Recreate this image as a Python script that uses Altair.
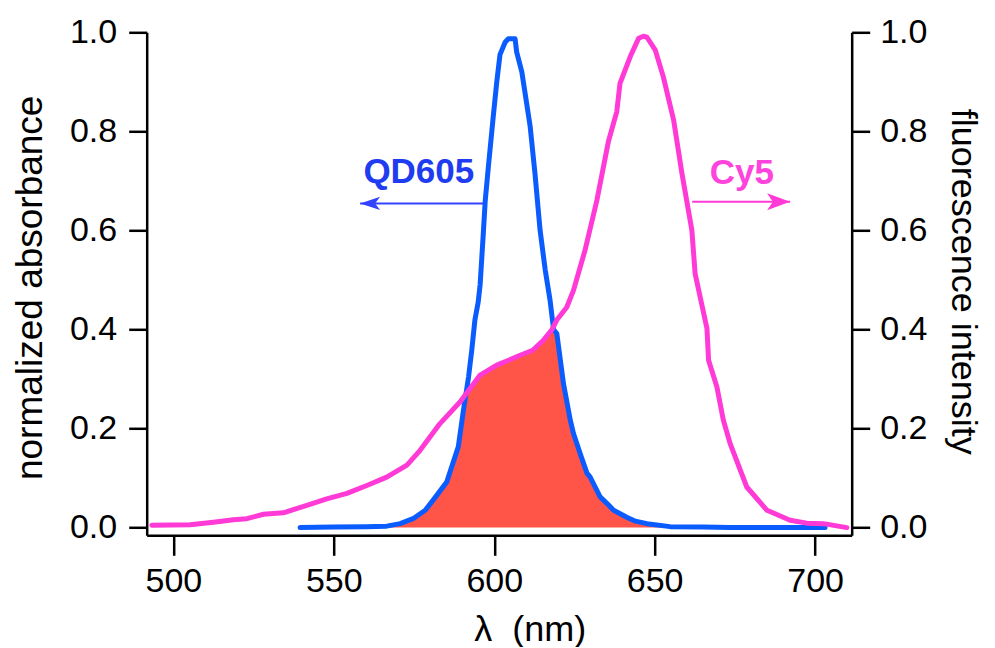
import altair as alt
import pandas as pd

# ---------------- data ----------------
qd_nm = [539.5, 550, 560, 566.5, 570.7, 574.7, 578.5, 581.5, 585.2, 588.8, 590.4, 592.0,
         593.0, 594.0, 595.0, 595.6, 596.6, 597.2, 598.2, 599.7, 600.8, 601.8, 603.4,
         604.4, 606.5, 607.0, 608.6, 611.2, 612.7, 614.3, 615.9, 617.4, 618.5, 619.5,
         621.6, 623.7, 624.7, 626.8, 628.9, 629.9, 633.0, 635.1, 637.2, 641.3, 644.0,
         647.6, 654.8, 665.0, 673.5, 690.0, 703.1]
qd_val = [0.000, 0.001, 0.002, 0.003, 0.008, 0.018, 0.035, 0.060, 0.092, 0.163, 0.237, 0.304,
          0.358, 0.420, 0.455, 0.490, 0.594, 0.660, 0.730, 0.830, 0.900, 0.955, 0.980,
          0.987, 0.987, 0.960, 0.920, 0.810, 0.715, 0.600, 0.520, 0.459, 0.400, 0.392,
          0.290, 0.217, 0.190, 0.149, 0.110, 0.102, 0.062, 0.049, 0.035, 0.021, 0.013,
          0.008, 0.002, 0.001, 0.000, 0.000, 0.000]

cy_nm = [493.3, 505.2, 512.5, 518.7, 522.9, 528.1, 534.3, 541.6, 547.8, 554.1, 560.3,
         566.5, 572.8, 576.9, 583.1, 589.4, 595.6, 600.8, 604.5, 608.1, 612.0, 615.3,
         618.0, 619.5, 622.6, 624.7, 628.3, 632.0, 635.6, 638.2, 639.2, 642.4, 645.0,
         646.5, 647.6, 650.2, 652.7, 655.9, 658.5, 661.6, 662.6, 666.3, 666.8, 669.4,
         671.4, 673.5, 678.7, 685.0, 692.2, 697.4, 702.6, 709.9]
cy_val = [0.005, 0.006, 0.011, 0.016, 0.018, 0.027, 0.030, 0.045, 0.058, 0.069, 0.085,
          0.102, 0.126, 0.156, 0.210, 0.254, 0.308, 0.328, 0.338, 0.348, 0.358, 0.378,
          0.400, 0.419, 0.445, 0.479, 0.560, 0.661, 0.780, 0.840, 0.897, 0.951, 0.988,
          0.992, 0.990, 0.964, 0.910, 0.823, 0.715, 0.600, 0.513, 0.402, 0.338, 0.284,
          0.217, 0.170, 0.082, 0.035, 0.015, 0.009, 0.008, 0.000]

# spectral overlap (red filled region)
ov_nm = [566.0, 570.7, 574.7, 578.5, 581.5, 585.2, 588.8, 590.4, 591.3, 595.6, 600.8,
         604.5, 608.1, 612.0, 615.3, 618.0, 618.6, 619.8, 621.8, 623.9, 625.0, 627.0,
         629.1, 630.2, 633.2, 635.3, 637.4, 641.5, 644.2, 647.8, 652.0]
ov_val = [0.000, 0.008, 0.018, 0.035, 0.060, 0.092, 0.163, 0.237, 0.270, 0.308, 0.328,
          0.338, 0.348, 0.358, 0.378, 0.400, 0.400, 0.392, 0.294, 0.220, 0.192, 0.152,
          0.112, 0.104, 0.064, 0.050, 0.036, 0.022, 0.014, 0.008, 0.000]

x_ticks = [500, 550, 600, 650, 700]
y_ticks = [0.0, 0.2, 0.4, 0.6, 0.8, 1.0]
x_domain = [491.7, 711.4]
y_domain = [-0.0155, 1.0]

labels = ["QD605", "Cy5"]
label_nm = [576.5, 677.2]
label_v = [0.696, 0.693]
arrow_from = [596.9, 661.7]
arrow_to = [558.2, 692.2]
arrow_v = [0.6545, 0.658]

# ---------------- styling ----------------
BLUE = "#0a5cff"
MAGENTA = "#ff3ad6"
RED = "#ff5448"
QD_TEXT = "#1f3cf0"
QD_ARROW = "#3344ff"
CY_TEXT = "#ff44dd"
FONT = "Liberation Sans"

qd_df = pd.DataFrame({"nm": qd_nm, "v": qd_val})
cy_df = pd.DataFrame({"nm": cy_nm, "v": cy_val})
ov_df = pd.DataFrame({"nm": ov_nm, "v": ov_val})

x_scale = alt.Scale(domain=x_domain, nice=False, zero=False)
y_scale = alt.Scale(domain=y_domain, nice=False, zero=False)

x_axis = alt.Axis(values=x_ticks, format="d", title="λ\u00a0\u00a0(nm)",
                  tickSize=20, labelPadding=9, titleX=383, titleY=105,
                  titleBaseline="alphabetic", titleAlign="center")
X = alt.X("nm:Q", scale=x_scale, axis=x_axis)

left_axis = alt.Axis(values=y_ticks, format=".1f", title="normalized absorbance",
                     orient="left", tickSize=18, labelPadding=12,
                     titleX=-105, titleY=255, titleAngle=270, titleFontSize=37,
                     titleBaseline="alphabetic", titleAlign="center")
right_axis = alt.Axis(values=y_ticks, format=".1f", title="fluorescence intensity",
                      orient="right", tickSize=18, labelPadding=10,
                      titleX=100, titleY=249, titleAngle=90, titleFontSize=36,
                      titleBaseline="alphabetic", titleAlign="center")

def Y(axis=None):
    if axis is None:
        return alt.Y("v:Q", scale=y_scale, axis=None)
    return alt.Y("v:Q", scale=y_scale, axis=axis)

overlap = alt.Chart(ov_df).mark_area(color=RED, opacity=1).encode(x=X, y=Y())
qd_line = alt.Chart(qd_df).mark_line(color=BLUE, strokeWidth=5, strokeJoin="round",
                                     strokeCap="round").encode(
    x=X, y=Y(left_axis), order="nm:Q")
cy_line = alt.Chart(cy_df).mark_line(color=MAGENTA, strokeWidth=5, strokeJoin="round",
                                     strokeCap="round").encode(
    x=X, y=Y(right_axis), order="nm:Q")

ann_df = pd.DataFrame({"nm": label_nm, "v": label_v, "t": labels})

qd_text = alt.Chart(ann_df.iloc[[0]]).mark_text(
    font=FONT, fontSize=35, fontWeight="bold", color=QD_TEXT, align="center",
    baseline="alphabetic").encode(x=X, y=Y(), text="t:N")
cy_text = alt.Chart(ann_df.iloc[[1]]).mark_text(
    font=FONT, fontSize=35, fontWeight="bold", color=CY_TEXT, align="center",
    baseline="alphabetic").encode(x=X, y=Y(), text="t:N")

arr_df = pd.DataFrame({"nm": arrow_from, "nm2": arrow_to, "v": arrow_v})
qd_shaft = alt.Chart(arr_df.iloc[[0]]).mark_rule(color=QD_ARROW, strokeWidth=2).encode(
    x=X, x2="nm2:Q", y=Y())
cy_shaft = alt.Chart(arr_df.iloc[[1]]).mark_rule(color=MAGENTA, strokeWidth=2).encode(
    x=X, x2="nm2:Q", y=Y())

head_df = pd.DataFrame({"nm": arrow_to, "v": arrow_v})
qd_head = alt.Chart(head_df.iloc[[0]]).mark_point(
    shape="M0,0L1,-0.33L0.75,0L1,0.33Z", size=1600, filled=True, color=QD_ARROW,
    opacity=1).encode(x=X, y=Y())
cy_head = alt.Chart(head_df.iloc[[1]]).mark_point(
    shape="M0,0L-1,-0.37L-0.75,0L-1,0.37Z", size=2116, filled=True, color=MAGENTA,
    opacity=1).encode(x=X, y=Y())

chart = alt.layer(
    overlap, qd_line, cy_line, qd_shaft, qd_head, qd_text, cy_shaft, cy_head, cy_text
).resolve_scale(y="independent").properties(
    width=705, height=503,
    padding={"left": 138.7, "top": 24.3, "right": 135, "bottom": 112},
    autosize=alt.AutoSizeParams(type="none"),
    background="white",
).configure_view(stroke=None).configure_axis(
    domainColor="black", domainWidth=2.5, tickColor="black", tickWidth=2.5,
    labelFont=FONT, labelFontSize=34, labelColor="black",
    titleFont=FONT, titleFontSize=36, titleFontWeight="normal", titleColor="black",
    grid=False, labelFlush=False, labelOverlap=False,
)

chart.save("out.html", embed_options={"renderer": "svg", "actions": False})
